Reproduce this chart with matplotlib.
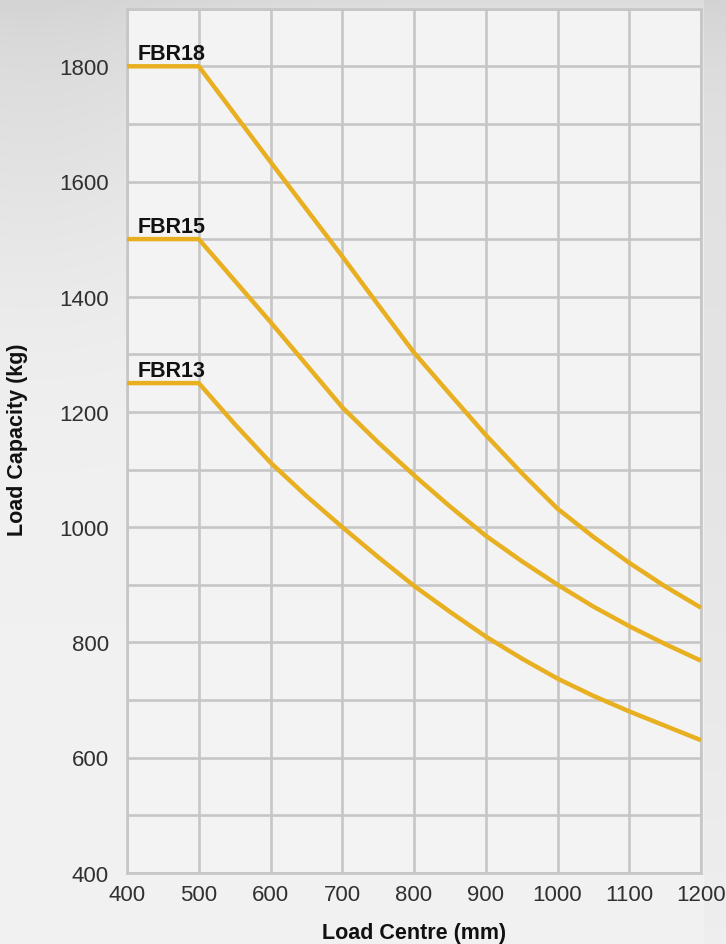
import numpy as np
import matplotlib
matplotlib.use("Agg")
import matplotlib.pyplot as plt
from matplotlib.ticker import MultipleLocator, FixedLocator

# ---- data ----
load_centre = [400, 500, 550, 600, 650, 700, 750, 800, 850, 900, 950, 1000, 1050, 1100, 1150, 1200]
fbr18 = [1800, 1800, 1717, 1634, 1552, 1470, 1386, 1303, 1231, 1160, 1094, 1032, 983, 938, 897, 860]
fbr15 = [1500, 1500, 1428, 1356, 1282, 1208, 1147, 1090, 1036, 985, 941, 900, 862, 828, 797, 768]
fbr13 = [1250, 1250, 1179, 1112, 1054, 1000, 948, 898, 853, 810, 772, 737, 707, 680, 655, 630]
series_names = ["FBR18", "FBR15", "FBR13"]
x_ticks = [400, 500, 600, 700, 800, 900, 1000, 1100, 1200]
y_ticks = [400, 600, 800, 1000, 1200, 1400, 1600, 1800]

plt.rcParams['font.family'] = ['Liberation Sans', 'DejaVu Sans']

W, H = 726, 945
fig = plt.figure(figsize=(W / 100, H / 100), dpi=100)

# background gradient
bg = fig.add_axes([0, 0, 1, 1], zorder=-10)
yy, xx = np.mgrid[0:H, 0:W]
val = 0.94 - 0.075 * np.exp(-yy / 90.0) - 0.045 * np.exp(-((xx - 30) ** 2 + (yy - 110) ** 2) / (2 * 150.0 ** 2))
val = val + 0.008 * (yy / H)
val = np.where(xx > 703, val - 0.05 * np.exp(-(yy - 300) ** 2 / (2 * 400.0 ** 2)), val)
val = np.clip(val, 0, 1)
bg.imshow(np.dstack([val, val, val]), aspect='auto', extent=[0, 1, 0, 1], origin='upper')
bg.axis('off')

left, right = 127 / W, 701 / W
bottom, top = 1 - 873.7 / H, 1 - 9.7 / H
ax = fig.add_axes([left, bottom, right - left, top - bottom])
ax.set_facecolor('#f3f3f3')

ax.set_xlim(400, 1200)
ax.set_ylim(400, 1900)
ax.xaxis.set_major_locator(FixedLocator(x_ticks))
ax.yaxis.set_major_locator(FixedLocator(y_ticks))
ax.yaxis.set_minor_locator(MultipleLocator(100))

gcol = '#c6c6c6'
ax.grid(True, which='both', color=gcol, linewidth=1.9, zorder=0)
ax.set_axisbelow(True)
for s in ax.spines.values():
    s.set_color(gcol)
    s.set_linewidth(1.9)

ax.tick_params(axis='both', which='both', length=0, labelsize=16, labelcolor='#303030')
ax.tick_params(axis='y', pad=13)
ax.tick_params(axis='x', pad=8)

line_color = '#e8b021'
for name, vals in zip(series_names, [fbr18, fbr15, fbr13]):
    ax.plot(load_centre, vals, color=line_color, linewidth=3.2, solid_capstyle='butt',
            solid_joinstyle='round', clip_on=False, zorder=3)
    ax.text(415, vals[0] + 12, name, fontsize=15.5, fontweight='bold', color='#111111',
            ha='left', va='baseline', zorder=4)

fig.text(414 / W, 1 - 934 / H, 'Load Centre (mm)', fontsize=15.5, fontweight='bold',
         color='#111111', ha='center', va='center')
fig.text(18 / W, 1 - 440 / H, 'Load Capacity (kg)', fontsize=15.5, fontweight='bold',
         color='#111111', ha='center', va='center', rotation=90)

fig.savefig('out.png', dpi=100)
